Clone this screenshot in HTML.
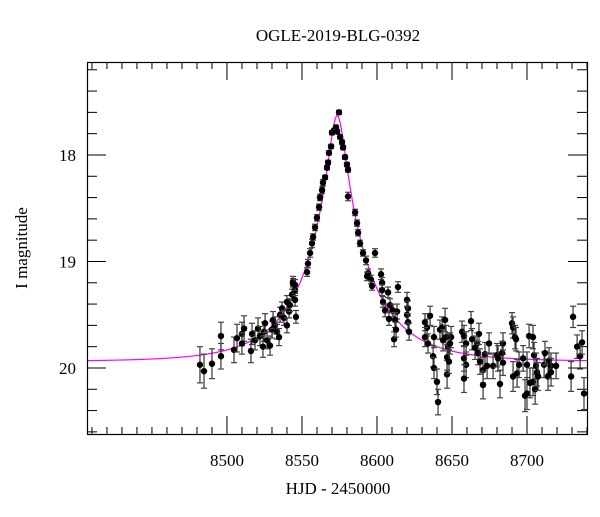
<!DOCTYPE html>
<html><head><meta charset="utf-8"><style>
body{margin:0;background:#fff}
svg text{font-family:"Liberation Serif",serif;fill:#000}
</style></head><body>
<svg id="chart" width="600" height="512" xmlns="http://www.w3.org/2000/svg">
<text x="338" y="41" font-size="17" text-anchor="middle">OGLE-2019-BLG-0392</text>
<text x="338" y="494" font-size="17" text-anchor="middle">HJD - 2450000</text>
<text x="0" y="0" font-size="17" text-anchor="middle" transform="translate(27,248) rotate(-90)">I magnitude</text>
<g id="ticks"></g>
<g id="model"></g>
<g id="pts"></g>
<rect x="87.5" y="62.5" width="500" height="372" fill="none" stroke="#000" stroke-width="1.2"/>
</svg>
<script>
const hjd=[8482.0,8484.7,8490.0,8496.0,8496.0,8504.7,8506.7,8510.0,8511.4,8510.0,8516.7,8516.0,8518.7,8520.7,8522.0,8524.0,8524.7,8525.4,8526.7,8528.7,8530.0,8530.7,8532.0,8533.4,8534.7,8535.4,8536.7,8538.0,8540.0,8541.4,8540.0,8542.0,8543.4,8544.0,8545.4,8546.0,8545.4,8544.0,8545.4,8553.4,8554.0,8555.4,8556.7,8557.4,8558.7,8560.0,8561.4,8562.0,8563.4,8564.0,8565.4,8566.7,8567.4,8568.0,8569.4,8570.0,8571.4,8572.7,8574.7,8573.4,8575.4,8576.7,8577.4,8578.7,8580.0,8580.7,8580.7,8585.4,8586.7,8587.4,8588.7,8590.7,8592.7,8598.7,8594.0,8596.0,8593.4,8596.7,8602.7,8603.4,8603.4,8607.4,8604.0,8605.4,8608.7,8610.7,8608.0,8613.4,8612.0,8614.0,8611.4,8612.7,8620.0,8620.7,8620.0,8620.7,8621.4,8632.0,8633.4,8635.4,8632.0,8634.0,8638.0,8637.4,8638.0,8640.0,8640.7,8642.0,8643.4,8644.0,8645.4,8646.0,8647.4,8646.7,8646.7,8648.0,8649.4,8648.7,8656.7,8658.0,8662.7,8663.4,8659.4,8658.0,8659.4,8658.0,8666.7,8668.0,8665.4,8667.4,8668.7,8672.0,8670.7,8670.7,8673.4,8674.7,8677.4,8680.0,8680.7,8682.0,8684.0,8683.4,8684.0,8690.0,8690.7,8692.0,8692.7,8690.7,8693.4,8694.7,8697.4,8700.0,8701.4,8704.0,8698.7,8700.0,8702.0,8704.0,8705.4,8704.7,8706.0,8706.7,8707.4,8711.4,8712.0,8714.0,8714.7,8716.0,8716.0,8719.4,8729.4,8730.7,8733.4,8735.4,8736.7,8738.0];
const mag=[19.97,20.03,19.96,19.70,19.89,19.83,19.72,19.68,19.63,19.77,19.68,19.84,19.74,19.63,19.70,19.80,19.66,19.58,19.74,19.79,19.64,19.55,19.60,19.66,19.71,19.50,19.44,19.53,19.60,19.47,19.38,19.41,19.31,19.21,19.36,19.52,19.27,19.19,19.22,19.10,19.02,18.92,18.83,18.77,18.68,18.59,18.49,18.40,18.33,18.26,18.21,18.12,18.07,17.98,17.92,17.79,17.77,17.74,17.60,17.78,17.83,17.88,17.93,18.02,18.09,18.14,18.39,18.54,18.64,18.73,18.83,18.92,18.99,18.92,19.11,19.17,19.14,19.23,19.12,19.20,19.27,19.29,19.38,19.46,19.41,19.46,19.54,19.47,19.55,19.24,19.73,19.64,19.36,19.44,19.50,19.57,19.66,19.57,19.62,19.51,19.71,19.77,19.71,19.89,20.00,20.13,20.32,19.64,19.62,19.74,19.55,19.71,19.80,19.90,20.06,19.94,19.71,19.77,19.66,19.70,19.56,19.73,19.77,19.91,19.97,20.10,19.77,19.68,19.81,19.86,19.94,19.87,20.02,20.16,19.98,19.77,19.98,19.88,19.91,20.15,19.77,19.86,19.95,19.58,19.62,19.71,19.73,20.08,20.05,19.97,19.91,19.97,19.70,19.71,20.26,20.24,20.14,20.13,20.20,19.88,19.98,20.04,20.08,19.97,19.86,20.08,19.93,19.98,20.04,19.98,20.08,19.52,19.80,19.89,19.76,20.24];
const err=[0.17,0.16,0.14,0.13,0.12,0.12,0.13,0.11,0.12,0.10,0.10,0.11,0.09,0.10,0.09,0.10,0.09,0.09,0.08,0.09,0.08,0.08,0.08,0.07,0.08,0.07,0.06,0.07,0.07,0.06,0.06,0.06,0.05,0.05,0.06,0.06,0.05,0.05,0.05,0.04,0.04,0.04,0.04,0.03,0.03,0.03,0.03,0.03,0.03,0.03,0.02,0.02,0.02,0.02,0.02,0.02,0.02,0.02,0.02,0.02,0.02,0.02,0.02,0.02,0.02,0.02,0.04,0.03,0.03,0.03,0.03,0.03,0.04,0.04,0.04,0.04,0.04,0.04,0.05,0.05,0.05,0.05,0.05,0.06,0.06,0.06,0.06,0.07,0.07,0.05,0.07,0.07,0.07,0.07,0.08,0.08,0.08,0.08,0.08,0.09,0.09,0.09,0.10,0.10,0.10,0.12,0.12,0.09,0.10,0.10,0.11,0.11,0.12,0.12,0.13,0.11,0.10,0.10,0.10,0.10,0.09,0.10,0.11,0.12,0.12,0.13,0.10,0.10,0.11,0.11,0.12,0.11,0.12,0.13,0.12,0.10,0.12,0.11,0.12,0.13,0.10,0.11,0.12,0.10,0.10,0.11,0.11,0.14,0.13,0.12,0.12,0.12,0.11,0.11,0.15,0.15,0.14,0.13,0.14,0.12,0.12,0.13,0.13,0.12,0.11,0.13,0.12,0.12,0.13,0.12,0.14,0.10,0.11,0.12,0.11,0.15];
const xTicks=[8500,8550,8600,8650,8700];
const yTicks=[18,19,20];
const model={t0:8573.5,u0:0.12,tE:45,base:19.94};
const X0=87,X1=587,Y0=62,Y1=434;
const xmin=8406.7,xmax=8740,ymin=17.127,ymax=20.62;
const sx=t=>X0+(t-xmin)/(xmax-xmin)*(X1-X0);
const sy=m=>Y0+(m-ymin)/(ymax-ymin)*(Y1-Y0);
const NS="http://www.w3.org/2000/svg";
function mk(tag,attrs,parent){const e=document.createElementNS(NS,tag);for(const k in attrs)e.setAttribute(k,attrs[k]);parent.appendChild(e);return e;}
const tg=document.getElementById('ticks');
for(let t=8410;t<=8740;t+=10){
  const maj=xTicks.includes(t);const L=maj?18:7;const x=sx(t);
  const a=mk('line',{x1:x,x2:x,y1:Y1,y2:Y1-L,stroke:'#000','stroke-width':1},tg);
  
  
  const b=mk('line',{x1:x,x2:x,y1:Y0,y2:Y0+L,stroke:'#000','stroke-width':1},tg);
  
  
}
xTicks.forEach(t=>{const e=mk('text',{x:sx(t),y:Y1+32,'font-size':17,'text-anchor':'middle'},tg);e.textContent=t;
  
  });
for(let i=0;i<=17;i++){
  const m=17.2+i*0.2;if(m>ymax)break;
  const maj=yTicks.some(v=>Math.abs(v-m)<1e-6);const L=maj?19:10;const y=sy(m);
  const a=mk('line',{x1:X0,x2:X0+L,y1:y,y2:y,stroke:'#000','stroke-width':1},tg);
  
  
  const b=mk('line',{x1:X1,x2:X1-L,y1:y,y2:y,stroke:'#000','stroke-width':1},tg);
  
  
}
yTicks.forEach(v=>{const e=mk('text',{x:X0-11,y:sy(v)+6,'font-size':17,'text-anchor':'end'},tg);e.textContent=v;
  
  });
// model
function modelMag(t){const tau=(t-model.t0)/model.tE;const u=Math.sqrt(tau*tau+model.u0*model.u0);
  const A=(u*u+2)/(u*Math.sqrt(u*u+4));return model.base-2.5*Math.log10(A);}
let d='';for(let t=xmin;t<=xmax;t+=0.25){d+=(d?'L':'M')+sx(t).toFixed(2)+','+sy(modelMag(t)).toFixed(2);}
const mp=mk('path',{d:d,fill:'none',stroke:'#ff00ff','stroke-width':1.2},document.getElementById('model'));


// points
const pg=document.getElementById('pts');
hjd.forEach((t,i)=>{
  const x=sx(t),y=sy(mag[i]),ya=sy(mag[i]-err[i]),yb=sy(mag[i]+err[i]);
  const g=mk('g',{},pg);
  
  
  mk('line',{x1:x,x2:x,y1:ya,y2:yb,stroke:'#333','stroke-width':1.2},g);
  mk('line',{x1:x-3,x2:x+3,y1:ya,y2:ya,stroke:'#444','stroke-width':1.2},g);
  mk('line',{x1:x-3,x2:x+3,y1:yb,y2:yb,stroke:'#444','stroke-width':1.2},g);
  mk('circle',{cx:x,cy:y,r:3.2,fill:'#000'},g);
});
</script>
</body></html>
